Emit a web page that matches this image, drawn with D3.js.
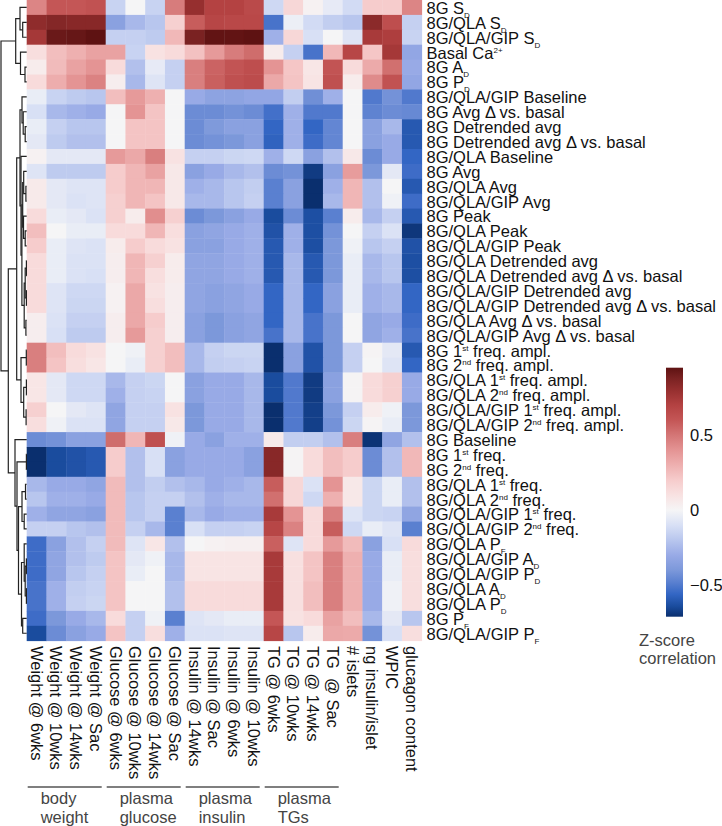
<!DOCTYPE html>
<html><head><meta charset="utf-8">
<script src="https://cdn.jsdelivr.net/npm/d3@7"></script>
<style>
html,body{margin:0;padding:0;background:#fff;}
svg{display:block;font-family:"Liberation Sans",Arial,Helvetica,sans-serif;}
</style></head>
<body><svg id="chart" width="722" height="826"></svg>
<script>
// ---------- DATA ----------
const rowLabels = [
 "8G S_{D}","8G/QLA S_{D}","8G/QLA/GIP S_{D}","Basal Ca^{2+}","8G A_{D}","8G P_{D}",
 "8G/QLA/GIP Baseline","8G Avg Δ vs. basal","8G Detrended avg","8G Detrended avg Δ vs. basal",
 "8G/QLA Baseline","8G Avg","8G/QLA Avg","8G/QLA/GIP Avg","8G Peak","8G/QLA Peak","8G/QLA/GIP Peak",
 "8G/QLA Detrended avg","8G/QLA Detrended avg Δ vs. basal","8G/QLA/GIP Detrended avg",
 "8G/QLA/GIP Detrended avg Δ vs. basal","8G/QLA Avg Δ vs. basal","8G/QLA/GIP Avg Δ vs. basal",
 "8G 1^{st} freq. ampl.","8G 2^{nd} freq. ampl.","8G/QLA 1^{st} freq. ampl.","8G/QLA 2^{nd} freq. ampl.",
 "8G/QLA/GIP 1^{st} freq. ampl.","8G/QLA/GIP 2^{nd} freq. ampl.","8G Baseline",
 "8G 1^{st} freq.","8G 2^{nd} freq.","8G/QLA 1^{st} freq.","8G/QLA 2^{nd} freq.",
 "8G/QLA/GIP 1^{st} freq.","8G/QLA/GIP 2^{nd} freq.","8G/QLA P_{F}","8G/QLA/GIP A_{D}",
 "8G/QLA/GIP P_{D}","8G/QLA A_{D}","8G/QLA P_{D}","8G P_{F}","8G/QLA/GIP P_{F}"
];
const colLabels = [
 "Weight @ 6wks","Weight @ 10wks","Weight @ 14wks","Weight @ Sac",
 "Glucose @ 6wks","Glucose @ 10wks","Glucose @ 14wks","Glucose @ Sac",
 "Insulin @ 14wks","Insulin @ Sac","Insulin @ 6wks","Insulin @ 10wks",
 "TG @ 6wks","TG @ 10wks","TG @ 14wks","TG  @ Sac",
 "# islets","ng insulin/islet","WPIC","glucagon content"
];
const groupNames = [["body","weight"],["plasma","glucose"],["plasma","insulin"],["plasma","TGs"]];
const groupStart = [0,4,8,12];
const groupEnd = [3,7,11,15];
const values = [
 [0.45,0.60,0.60,0.62,-0.15,0.00,-0.15,0.48,0.80,0.70,0.70,0.66,-0.13,0.15,0.02,-0.05,-0.12,0.20,0.20,0.45],
 [0.82,0.85,0.84,0.84,-0.35,-0.25,-0.20,0.18,0.58,0.68,0.67,0.67,-0.52,-0.03,-0.12,-0.17,-0.20,0.83,0.64,-0.16],
 [0.75,0.92,0.93,0.95,-0.16,-0.16,-0.18,0.27,0.88,0.94,0.94,0.95,-0.28,0.15,-0.10,0.00,-0.08,0.74,0.72,-0.15],
 [0.12,0.25,0.30,0.35,0.35,-0.15,0.10,0.13,0.24,0.38,0.48,0.53,0.05,-0.16,-0.52,0.27,0.68,0.22,0.75,-0.32],
 [0.05,0.26,0.35,0.40,0.13,-0.22,-0.05,-0.16,0.47,0.56,0.61,0.64,0.40,0.22,0.08,0.61,0.13,0.32,0.52,-0.30],
 [0.13,0.31,0.40,0.46,0.04,-0.25,-0.08,-0.16,0.47,0.57,0.63,0.65,0.33,0.23,0.09,0.63,0.05,0.43,0.62,-0.32],
 [-0.04,-0.15,-0.18,-0.20,0.25,0.38,0.30,0.00,-0.30,-0.34,-0.34,-0.32,-0.32,-0.17,-0.43,-0.28,0.00,-0.50,-0.42,-0.50],
 [-0.10,-0.25,-0.28,-0.30,0.00,0.40,0.23,0.00,-0.44,-0.44,-0.42,-0.44,-0.53,-0.28,-0.50,-0.50,0.00,-0.47,-0.44,-0.45],
 [-0.04,-0.16,-0.20,-0.20,0.00,0.23,0.23,0.00,-0.44,-0.39,-0.35,-0.35,-0.56,-0.28,-0.56,-0.46,0.00,-0.35,-0.25,-0.60],
 [-0.06,-0.18,-0.22,-0.22,0.00,0.23,0.23,0.00,-0.44,-0.42,-0.40,-0.35,-0.57,-0.28,-0.54,-0.46,0.00,-0.35,-0.30,-0.60],
 [0.02,-0.06,-0.06,-0.06,0.38,0.33,0.47,0.10,-0.16,-0.16,-0.14,-0.13,-0.28,-0.13,-0.35,-0.22,0.07,-0.44,-0.30,-0.56],
 [-0.08,-0.18,-0.18,-0.18,0.20,0.28,0.35,0.07,-0.35,-0.30,-0.25,-0.22,-0.44,-0.42,-0.68,-0.35,0.37,-0.40,-0.06,-0.54],
 [0.06,-0.06,-0.08,-0.08,0.20,0.28,0.28,0.07,-0.28,-0.25,-0.20,-0.17,-0.48,-0.35,-0.71,-0.28,0.28,-0.22,0.00,-0.60],
 [0.06,-0.06,-0.09,-0.08,0.18,0.28,0.23,0.07,-0.25,-0.25,-0.20,-0.16,-0.48,-0.35,-0.71,-0.25,0.28,-0.22,-0.02,-0.54],
 [0.13,-0.04,-0.06,-0.09,0.18,0.05,0.42,0.18,-0.44,-0.40,-0.35,-0.30,-0.64,-0.44,-0.63,-0.48,0.05,-0.25,-0.16,-0.60],
 [0.25,0.00,-0.04,-0.04,0.13,0.13,0.28,0.12,-0.35,-0.33,-0.30,-0.28,-0.62,-0.28,-0.63,-0.42,0.00,-0.16,-0.09,-0.69],
 [0.20,-0.04,-0.08,-0.09,0.05,0.20,0.13,0.10,-0.35,-0.35,-0.30,-0.28,-0.60,-0.28,-0.63,-0.40,-0.02,-0.20,-0.16,-0.62],
 [0.13,-0.04,-0.09,-0.09,0.04,0.28,0.18,0.05,-0.33,-0.33,-0.30,-0.28,-0.60,-0.25,-0.60,-0.40,-0.04,-0.25,-0.20,-0.63],
 [0.13,-0.04,-0.09,-0.10,0.04,0.28,0.12,0.05,-0.33,-0.33,-0.30,-0.28,-0.60,-0.25,-0.60,-0.40,-0.04,-0.25,-0.20,-0.63],
 [0.13,-0.08,-0.13,-0.13,0.02,0.33,0.10,0.04,-0.33,-0.35,-0.33,-0.30,-0.56,-0.25,-0.56,-0.35,-0.04,-0.28,-0.25,-0.56],
 [0.13,-0.08,-0.14,-0.14,0.02,0.33,0.12,0.04,-0.33,-0.35,-0.33,-0.30,-0.56,-0.25,-0.56,-0.35,-0.04,-0.28,-0.25,-0.56],
 [0.04,-0.09,-0.16,-0.16,0.04,0.33,0.20,0.04,-0.35,-0.40,-0.35,-0.33,-0.56,-0.25,-0.52,-0.40,0.00,-0.33,-0.30,-0.54],
 [0.04,-0.10,-0.18,-0.18,0.04,0.38,0.18,0.04,-0.35,-0.40,-0.35,-0.33,-0.52,-0.25,-0.52,-0.40,0.00,-0.33,-0.28,-0.52],
 [0.47,0.25,0.13,0.10,0.00,-0.02,0.18,0.25,-0.25,-0.16,-0.14,-0.14,-0.71,-0.35,-0.62,-0.40,-0.16,0.01,-0.06,-0.60],
 [0.47,0.23,0.12,0.08,0.00,-0.04,0.18,0.25,-0.25,-0.17,-0.16,-0.15,-0.71,-0.35,-0.62,-0.40,-0.16,0.00,-0.08,-0.56],
 [0.08,-0.06,-0.13,-0.13,-0.25,-0.16,-0.14,0.00,-0.35,-0.30,-0.30,-0.25,-0.64,-0.50,-0.68,-0.35,0.01,0.13,0.18,-0.30],
 [0.08,-0.06,-0.13,-0.13,-0.28,-0.16,-0.15,0.00,-0.35,-0.30,-0.30,-0.25,-0.64,-0.50,-0.68,-0.35,0.01,0.13,0.18,-0.30],
 [0.18,0.00,-0.06,-0.08,-0.33,-0.16,-0.16,0.10,-0.40,-0.30,-0.30,-0.25,-0.71,-0.50,-0.67,-0.40,-0.16,0.05,-0.02,-0.40],
 [0.12,-0.02,-0.09,-0.09,-0.33,-0.16,-0.16,0.07,-0.40,-0.30,-0.30,-0.25,-0.71,-0.50,-0.67,-0.42,-0.14,0.01,-0.04,-0.40],
 [-0.44,-0.42,-0.35,-0.35,0.53,0.28,0.63,-0.02,-0.30,-0.35,-0.28,-0.28,0.06,-0.17,-0.17,-0.22,0.47,-0.70,-0.33,-0.22],
 [-0.71,-0.64,-0.62,-0.60,0.20,-0.22,-0.10,-0.35,-0.30,-0.30,-0.30,-0.35,0.84,0.01,0.13,0.25,0.20,-0.44,-0.22,0.27],
 [-0.71,-0.64,-0.62,-0.60,0.20,-0.22,-0.10,-0.35,-0.30,-0.30,-0.30,-0.35,0.84,0.01,0.13,0.25,0.20,-0.44,-0.22,0.27],
 [-0.25,-0.30,-0.30,-0.33,0.26,-0.22,-0.17,-0.22,-0.25,-0.30,-0.28,-0.25,0.58,0.15,-0.09,0.40,0.07,-0.14,-0.04,-0.22],
 [-0.20,-0.28,-0.28,-0.30,0.26,-0.20,-0.16,-0.16,-0.22,-0.28,-0.25,-0.25,0.52,0.15,-0.13,0.30,0.07,-0.14,-0.04,-0.22],
 [-0.28,-0.33,-0.33,-0.35,0.26,-0.20,-0.16,-0.48,-0.25,-0.30,-0.28,-0.28,0.74,0.40,0.13,0.47,-0.08,-0.14,-0.15,-0.33],
 [-0.16,-0.16,-0.20,-0.22,0.26,-0.16,-0.25,-0.48,-0.10,-0.16,-0.16,-0.15,0.68,0.46,0.13,0.58,-0.13,-0.04,-0.08,-0.48],
 [-0.54,-0.35,-0.22,-0.16,0.26,-0.08,0.08,-0.22,0.00,0.02,0.03,0.03,0.57,-0.08,0.13,0.38,0.26,-0.35,-0.10,0.13],
 [-0.54,-0.33,-0.22,-0.18,0.23,-0.06,-0.02,-0.25,0.09,0.09,0.09,0.09,0.74,0.11,0.23,0.47,0.30,-0.30,-0.04,0.12],
 [-0.54,-0.33,-0.20,-0.16,0.23,-0.04,0.00,-0.25,0.09,0.09,0.09,0.09,0.74,0.11,0.23,0.47,0.30,-0.30,-0.04,0.12],
 [-0.52,-0.28,-0.17,-0.15,0.23,0.00,0.00,-0.22,0.13,0.13,0.13,0.13,0.74,0.11,0.25,0.47,0.30,-0.30,-0.02,0.12],
 [-0.52,-0.28,-0.16,-0.14,0.23,0.00,0.00,-0.22,0.13,0.13,0.13,0.13,0.74,0.11,0.25,0.47,0.30,-0.30,-0.02,0.12],
 [-0.54,-0.40,-0.30,-0.25,0.13,-0.16,-0.02,-0.48,-0.08,-0.06,-0.04,-0.04,0.60,0.10,0.13,0.35,0.25,-0.25,-0.06,-0.20],
 [-0.64,-0.44,-0.35,-0.30,0.23,-0.16,0.12,-0.28,-0.09,-0.09,-0.08,-0.08,0.68,-0.20,0.05,0.33,0.32,-0.42,-0.10,0.12]
];
// row dendrogram: [height, left, right]; leaves are row indices
const rowTree =
 [25.7,
  [11, [6.7, 0, [4, 1, 2]], [6.2, 3, [1.7, 4, 5]]],
  [18.4,
   [10,
    [6.7,
     [4.7, 6, [3.5, 7, [1.5, 8, 9]]],
     [5.7, 10,
      [4.8,
       [4.0, [3.0, 11, [0.8, 12, 13]], [3.2, 14, [1.5, 15, 16]]],
       [2.5, [1.5, [0.3, 17, 18], [0.3, 19, 20]], [0.8, 21, 22]]]]],
    [5.7, [0.4, 23, 24], [3.0, [0.3, 25, 26], [0.6, 27, 28]]]],
   [11.7, 29,
    [9.7, [0.3, 30, 31],
     [8.2,
      [4.7, [1.2, 32, 33], [2.5, 34, 35]],
      [5.2, [2.5, 36, [1.5, [0.3, 37, 38], [0.3, 39, 40]]], [4.0, 41, 42]]]]]]];
const colorStops = [-0.71,-0.64,-0.56,-0.48,-0.40,-0.30,-0.20,-0.10,0,0.10,0.20,0.30,0.40,0.50,0.60,0.70,0.80,0.88,0.95];
const colorRange = ["#0a2f6e","#1a4c9e","#3366c4","#5a80d0","#7c98da","#98aae6","#b8c6ee","#d8e0f5","#f5f5f6",
 "#f8e2e2","#f6cccc","#eeb0b0","#e49494","#d47676","#c45656","#b44242","#962f2f","#7a2222","#5e1212"];
const cbTicks = [0.5, 0, -0.5];

// ---------- DRAW ----------
const svg = d3.select("#chart");
const x = d3.scaleBand().domain(d3.range(colLabels.length)).range([26.7, 421.7]);
const y = d3.scaleBand().domain(d3.range(rowLabels.length)).range([0, 640.7]);
const color = d3.scaleLinear().domain(colorStops).range(colorRange).interpolate(d3.interpolateLab).clamp(true);

// cells
const g = svg.append("g");
values.forEach((row, i) => {
  g.selectAll(null).data(row).join("rect")
    .attr("x", (d, j) => x(j)).attr("y", y(i))
    .attr("width", x.bandwidth() + 0.4).attr("height", y.bandwidth() + 0.4)
    .attr("fill", d => color(d));
});

// text with sub/superscripts
function richText(sel, str, small) {
  const re = /([_^])\{([^}]*)\}/g;
  let last = 0, m, shift = 0;
  while ((m = re.exec(str)) !== null) {
    if (m.index > last) { sel.append("tspan").attr("dy", -shift).text(str.slice(last, m.index)); shift = 0; }
    const dy = m[1] === "_" ? 4 : -6;
    sel.append("tspan").attr("dy", dy - shift).attr("font-size", small).text(m[2]);
    shift = dy; last = re.lastIndex;
  }
  if (last < str.length) sel.append("tspan").attr("dy", -shift).text(str.slice(last));
}

// row labels
rowLabels.forEach((lab, i) => {
  const t = svg.append("text").attr("x", 426.5).attr("y", y(i) + y.bandwidth() / 2 + 6.4)
    .attr("font-size", 16.5).attr("fill", "#111").style("white-space", "pre");
  richText(t, lab, 8);
});

// column labels
colLabels.forEach((lab, j) => {
  svg.append("text")
    .attr("transform", `translate(${x(j) + x.bandwidth() / 2},646) rotate(90)`)
    .attr("dy", "0.36em").attr("font-size", 16.5).attr("fill", "#111")
    .style("white-space", "pre").text(lab);
});

// group brackets
groupNames.forEach((nm, k) => {
  const x0 = x(groupStart[k]) + 1, x1 = x(groupEnd[k]) + x.bandwidth() - 4;
  svg.append("line").attr("x1", x0).attr("x2", x1).attr("y1", 787).attr("y2", 787)
    .attr("stroke", "#555").attr("stroke-width", 1.5);
  nm.forEach((w, l) => {
    svg.append("text").attr("x", x0 + 13).attr("y", 804 + l * 18.5)
      .attr("font-size", 16.5).attr("fill", "#444").text(w);
  });
});

// dendrogram
const root = d3.hierarchy(rowTree, d => Array.isArray(d) ? d.slice(1) : null);
const hx = d3.scaleLinear().domain([0, rowTree[0]]).range([26.7, 1]);
root.eachAfter(n => {
  if (!n.children) { n.py = y(n.data) + y.bandwidth() / 2; n.px = hx(0); }
  else { n.py = d3.mean(n.children, c => c.py); n.px = hx(n.data[0]); }
});
const dg = svg.append("g").attr("fill", "none").attr("stroke", "#222").attr("stroke-width", 1.2);
root.each(n => {
  if (!n.children) return;
  const [a, b] = n.children;
  dg.append("path").attr("d", `M${a.px},${a.py}H${n.px}V${b.py}H${b.px}`);
});

// colorbar
const cbY = d3.scaleLinear().domain([-0.71, 0.95]).range([616.7, 367.7]);
const grad = svg.append("defs").append("linearGradient").attr("id", "cb")
  .attr("x1", 0).attr("y1", 1).attr("x2", 0).attr("y2", 0);
colorStops.forEach((s, i) => grad.append("stop")
  .attr("offset", (s - colorStops[0]) / (colorStops[colorStops.length - 1] - colorStops[0]))
  .attr("stop-color", colorRange[i]));
svg.append("rect").attr("x", 666).attr("y", cbY(0.95)).attr("width", 17)
  .attr("height", cbY(-0.71) - cbY(0.95)).attr("fill", "url(#cb)");
cbTicks.forEach(t => {
  svg.append("text").attr("x", 690).attr("y", cbY(t)).attr("dy", "0.36em")
    .attr("font-size", 16.5).attr("fill", "#111").text(d3.format("")(t).replace("-", "\u2212"));
});
svg.append("text").attr("x", 639).attr("y", 646).attr("font-size", 16.5).attr("fill", "#444").text("Z-score");
svg.append("text").attr("x", 639).attr("y", 664).attr("font-size", 16.5).attr("fill", "#444").text("correlation");
</script></body></html>
